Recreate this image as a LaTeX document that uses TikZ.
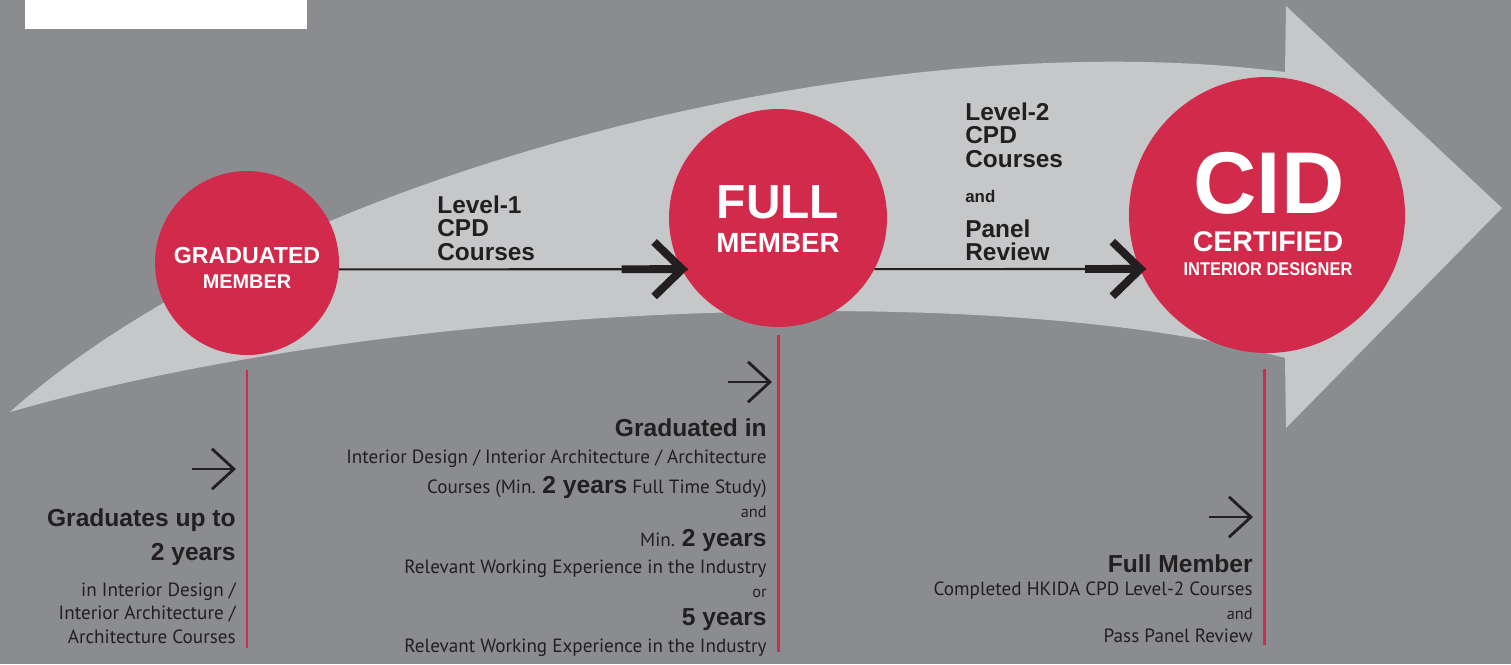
\documentclass[tikz,border=0pt]{standalone}
\usepackage{fontspec}
\newfontfamily\headfont{Liberation Sans}
\newfontfamily\bodyfont{PT Sans}
\usetikzlibrary{arrows.meta}
\usetikzlibrary{positioning}
\definecolor{bggray}{HTML}{8B8C90}
\definecolor{lightarrow}{HTML}{C6C7C9}
\definecolor{hkred}{HTML}{D12A4A}
\definecolor{ink}{HTML}{231F20}
\newdimen\px \px=0.02cm
\tikzset{
    stage/.style = {circle, fill=hkred, inner sep=0pt, outer sep=0pt},
    stagetxt/.style = {anchor=base, inner sep=0pt, text=white, font=\headfont\bfseries\fontsize{#1}{#1}\selectfont},
    steptxt/.style = {anchor=base west, inner sep=0pt, text=ink, font=\headfont\bfseries\fontsize{#1}{#1}\selectfont},
    boldtxt/.style = {anchor=base east, inner sep=0pt, text=ink, font=\headfont\bfseries\fontsize{14}{14}\selectfont},
    bodytxt/.style = {anchor=base east, inner sep=0pt, text=ink, font=\bodyfont\fontsize{10.9}{12}\selectfont},
    smalltxt/.style = {anchor=base east, inner sep=0pt, text=ink, font=\bodyfont\fontsize{9.3}{9}\selectfont},
    link/.style = {-, line width=1.2pt, ink, shorten >=-3.5pt},
    shaft/.style = {-{Straight Barb[length=16pt,width=31pt,line width=4.5pt]}, line width=4.5pt, ink, shorten >=-3.5pt},
    pointer/.style = {-{Straight Barb[length=12.5pt,width=23pt]}, line width=1.6pt, ink},
    stem/.style = {-, line width=1.7pt, hkred}
}
\newcommand{\yrs}[1]{{\headfont\bfseries\fontsize{14}{14}\selectfont #1}}
\begin{document}
\begin{tikzpicture}[x=0.02cm, y=-0.02cm]
\useasboundingbox (0,0) rectangle (1511,664);
\fill[bggray] (0,0) rectangle (1511,664);
\fill[white] (25,0) rectangle (307,29);
% big arrow
\fill[lightarrow] (10,412) .. controls (280,170) and (880,20) .. (1285,72) -- (1286,6) -- (1502,208)
    -- (1286,428) -- (1285,358) .. controls (1000,280) and (400,300) .. (10,412) -- cycle;
%
\node[stage, minimum size=184\px] at (247,263) (grad) {};
\node[stage, minimum size=218\px] at (778,218) (full) {};
\node[stage, minimum size=276\px] at (1267,215) (cid) {};
%
\node[stagetxt=13.2] at (247,263) (gradt1) {GRADUATED};
\node[stagetxt=11.3] at (247,288) (gradt2) {MEMBER};
\node[stagetxt=27.2] at (778,218) (fullt1) {FULL};
\node[stagetxt=15.8] at (778,252) (fullt2) {MEMBER};
\node[stagetxt=49.9] at (1269,213) (cidt1) {CID};
\node[stagetxt=16.2] at (1268,251) (cidt2) {CERTIFIED};
\node[stagetxt=10.5] at (1268,275) (cidt3) {\scalebox{0.89}[1]{INTERIOR DESIGNER}};
%
\draw[link] (grad.-4) -- (full.208);
\draw[shaft, shorten <=161pt] (grad.-4) -- (full.208);
\draw[link] (full.-28) -- (cid.203);
\draw[shaft, shorten <=120pt] (full.-28) -- (cid.203);
%
\node[steptxt=13.9] at (437,213) (l1a) {Level-1};
\node[steptxt=13.9] at (437,236) (l1b) {CPD};
\node[steptxt=13.9] at (437,260) (l1c) {Courses};
\node[steptxt=13.9] at (965,120) (l2a) {Level-2};
\node[steptxt=13.9] at (965,143) (l2b) {CPD};
\node[steptxt=13.9] at (965,167) (l2c) {Courses};
\node[steptxt=9.6] at (965,202) (l2d) {and};
\node[steptxt=13.9] at (965,237) (l2e) {Panel};
\node[steptxt=13.9] at (965,260) (l2f) {Review};
%
\draw[stem] ([yshift=-15\px]grad.south) -- +(0,278);
\draw[stem] ([yshift=-8\px]full.south) -- +(0,317);
\draw[stem] ([xshift=-3\px,yshift=-16\px]cid.south) -- +(0,276);
%
\coordinate (gp) at (236,469);
\coordinate (fp) at (772,382);
\coordinate (cp) at (1253,517);
\draw[pointer] (gp) ++(-44,0) -- (gp);
\draw[pointer] (fp) ++(-44,0) -- (fp);
\draw[pointer] (cp) ++(-44,0) -- (cp);
%
\node[boldtxt] at (236,526) (g1) {Graduates up to};
\node[boldtxt] at (236,560) (g2) {2 years};
\node[bodytxt] at (236,596) (g3) {in Interior Design /};
\node[bodytxt] at (236,619) (g4) {Interior Architecture /};
\node[bodytxt] at (236,643) (g5) {Architecture Courses};
%
\node[boldtxt] at (767,436) (f1) {Graduated in};
\node[bodytxt] at (767,463) (f2) {Interior Design / Interior Architecture / Architecture};
\node[bodytxt] at (767,493) (f3) {Courses (Min. \yrs{2 years} Full Time Study)};
\node[smalltxt] at (767,517) (f4) {and};
\node[bodytxt] at (767,546) (f5) {Min. \yrs{2 years}};
\node[bodytxt] at (767,573) (f6) {Relevant Working Experience in the Industry};
\node[smalltxt] at (767,597) (f7) {or};
\node[boldtxt] at (767,625) (f8) {5 years};
\node[bodytxt] at (767,652) (f9) {Relevant Working Experience in the Industry};
%
\node[boldtxt] at (1253,572) (c1) {Full Member};
\node[bodytxt] at (1253,595) (c2) {Completed HKIDA CPD Level-2 Courses};
\node[smalltxt] at (1253,619) (c3) {and};
\node[bodytxt] at (1253,642) (c4) {Pass Panel Review};
\end{tikzpicture}
\end{document}
